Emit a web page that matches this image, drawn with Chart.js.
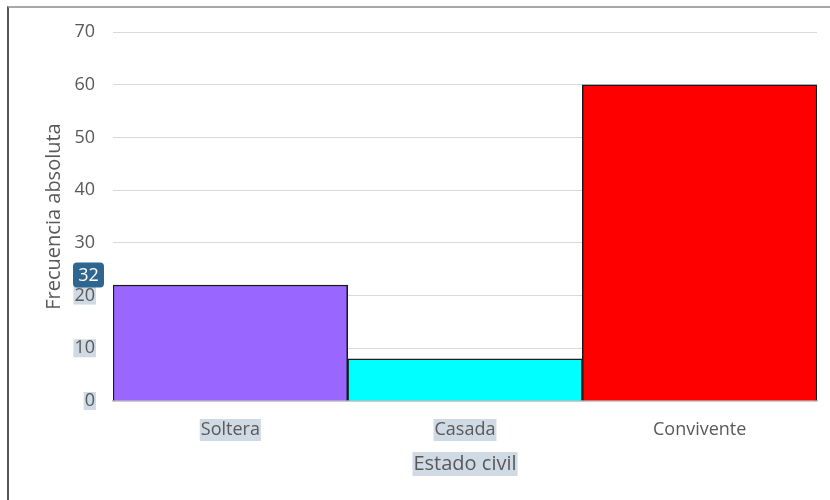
<!DOCTYPE html>
<html>
<head>
<meta charset="utf-8">
<script src="https://cdn.jsdelivr.net/npm/chart.js@4/dist/chart.umd.min.js"></script>
<style>
  body { margin: 0; background: #fff; }
  #wrap { position: relative; width: 830px; height: 500px; }
  #marco { position: absolute; left: 7px; top: 6px; right: 0; bottom: 0;
           border-left: 2px solid #555; border-top: 2px solid #a8a8a8; pointer-events: none; }
</style>
</head>
<body>
<div id="wrap">
  <canvas id="cntEstadoCivil" width="830" height="500"></canvas>
  <div id="marco"></div>
</div>
<script>
  // datos
  const categorias = ['Soltera', 'Casada', 'Convivente'];
  const frecuencias = [22, 8, 60];
  const colores = ['#9966FF', '#00FFFF', '#FF0000'];
  const ticksY = [0, 10, 20, 30, 40, 50, 60, 70];
  const resaltadosY = [0, 10, 20];       // etiquetas con fondo de seleccion
  const resaltadosX = ['Soltera', 'Casada'];
  const etiquetaNota = '32';

  const fuente = '"Open Sans", sans-serif';
  const grisTexto = '#595959';
  const fondoSel = '#cfdae5';

  // fondo de seleccion detras de algunas etiquetas + globo "32"
  const pluginSeleccion = {
    id: 'seleccion',
    beforeDraw(chart) {
      const ctx = chart.ctx, x = chart.scales.x, y = chart.scales.y;
      ctx.save();
      ctx.fillStyle = fondoSel;
      ctx.font = '18px ' + fuente;
      resaltadosY.forEach(v => {
        const w = ctx.measureText(String(v)).width;
        const py = y.getPixelForValue(v);
        ctx.fillRect(95 - w - 1, py - 9, w + 2, 18);
      });
      resaltadosX.forEach(c => {
        const w = ctx.measureText(c).width;
        const px = x.getPixelForValue(categorias.indexOf(c));
        ctx.fillRect(px - w / 2 - 1, 419, w + 2, 22);
      });
      ctx.font = '20px ' + fuente;
      const wt = ctx.measureText('Estado civil').width;
      const cx = (chart.chartArea.left + chart.chartArea.right) / 2;
      ctx.fillRect(cx - wt / 2 - 1, 452, wt + 2, 24);
      ctx.restore();
    },
    afterDraw(chart) {
      const ctx = chart.ctx, y = chart.scales.y;
      const py = y.getPixelForValue(20) - 21;
      ctx.save();
      ctx.fillStyle = '#2f6690';
      ctx.beginPath();
      ctx.roundRect(73, py - 12, 31, 25, 4);
      ctx.fill();
      ctx.fillStyle = '#fff';
      ctx.font = '18px ' + fuente;
      ctx.textAlign = 'center';
      ctx.textBaseline = 'middle';
      ctx.fillText(etiquetaNota, 88.5, py + 1);
      ctx.restore();
    }
  };

  const config = {
    type: 'bar',
    data: {
      labels: categorias,
      datasets: [{
        label: 'Frecuencia absoluta',
        data: frecuencias,
        backgroundColor: colores,
        borderColor: '#1a1a1a',
        borderWidth: 1.5,
        categoryPercentage: 1,
        barPercentage: 1
      }]
    },
    plugins: [pluginSeleccion],
    options: {
      responsive: false,
      animation: false,
      layout: { padding: { top: 32, right: 13, left: 42, bottom: 0 } },
      plugins: {
        legend: { display: false },
        tooltip: { enabled: false }
      },
      scales: {
        x: {
          grid: { display: false, drawTicks: false },
          border: { display: true, color: '#bfbfbf', width: 1.5 },
          ticks: { color: grisTexto, font: { size: 18, family: fuente }, padding: 18 },
          title: { display: true, text: 'Estado civil', color: grisTexto,
                   font: { size: 20, family: fuente }, padding: { top: 4, bottom: 24 } },
          afterFit(scale) { scale.height = 99; }
        },
        y: {
          min: 0, max: 70,
          afterBuildTicks(scale) { scale.ticks = ticksY.map(v => ({ value: v })); },
          grid: { color: '#d9d9d9', lineWidth: 1, drawTicks: false },
          border: { display: false },
          ticks: { color: grisTexto, font: { size: 18, family: fuente }, padding: 18 },
          title: { display: true, text: 'Frecuencia absoluta', color: grisTexto,
                   font: { size: 20, family: fuente }, padding: 0 },
          afterFit(scale) { scale.width = 71; }
        }
      }
    }
  };

  const ctx = document.getElementById('cntEstadoCivil').getContext('2d');
  window.graficaEstadoCivil = new Chart(ctx, config);
</script>
</body>
</html>
